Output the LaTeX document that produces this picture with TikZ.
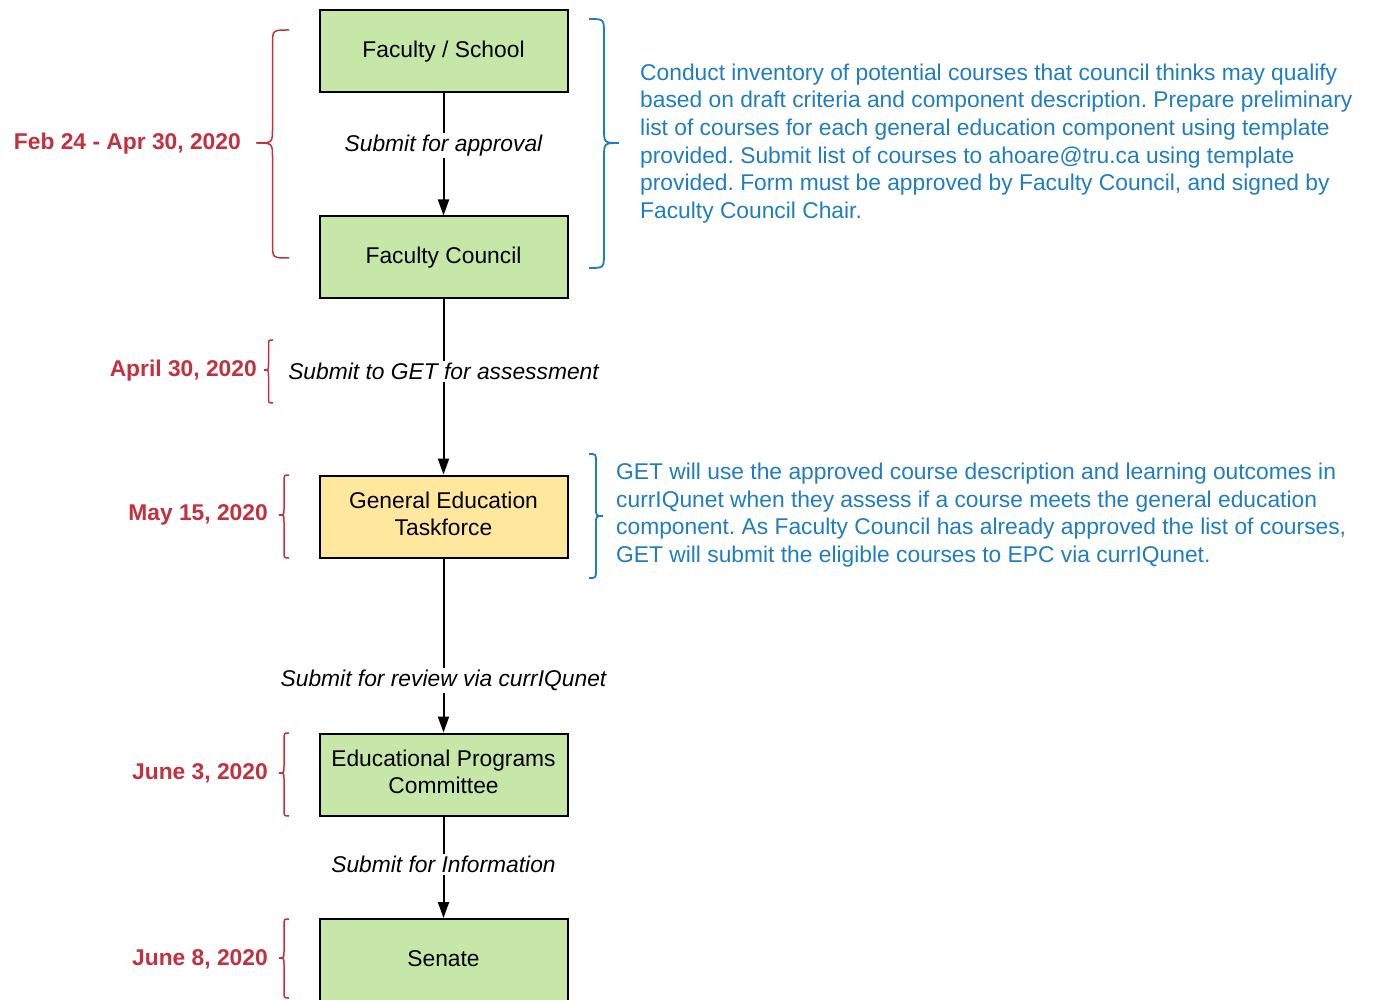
\documentclass[tikz,border=0pt]{standalone}
\usepackage{fontspec}
\setmainfont{Liberation Sans}
\usetikzlibrary{arrows.meta}
\definecolor{boxgreen}{HTML}{C6E7A8}
\definecolor{boxyellow}{HTML}{FFE89E}
\definecolor{noteblue}{HTML}{1F7EC1}
\definecolor{datered}{HTML}{C3313E}
\frenchspacing
% left-pointing brace: x0 (ends), amplitude, top, bottom, tip y, radius, style
\newcommand\BraceToLeft[7]{%
  \draw[#7] (#1,#3) .. controls ({#1-#2/2},#3) .. ({#1-#2/2},{#3+#6})
    -- ({#1-#2/2},{#5-#6}) .. controls ({#1-#2/2},#5) .. ({#1-#2},#5)
    .. controls ({#1-#2/2},#5) .. ({#1-#2/2},{#5+#6})
    -- ({#1-#2/2},{#4-#6}) .. controls ({#1-#2/2},#4) .. (#1,#4);}
\newcommand\BraceToRight[7]{%
  \draw[#7] (#1,#3) .. controls ({#1+#2/2},#3) .. ({#1+#2/2},{#3+#6})
    -- ({#1+#2/2},{#5-#6}) .. controls ({#1+#2/2},#5) .. ({#1+#2},#5)
    .. controls ({#1+#2/2},#5) .. ({#1+#2/2},{#5+#6})
    -- ({#1+#2/2},{#4-#6}) .. controls ({#1+#2/2},#4) .. (#1,#4);}
\begin{document}
\begin{tikzpicture}[x=1pt,y=-1pt,
  stepbox/.style={draw=black, line width=2pt, minimum width=248pt, minimum height=82pt,
    align=center, inner sep=0pt, font=\fontsize{22.8}{27}\selectfont},
  twoline/.style={text depth=5pt},
  arr/.style={line width=2pt, -{Triangle[length=16pt,width=11pt]}},
  lbl/.style={fill=white, inner sep=2pt, font=\fontsize{22.8}{27}\selectfont\itshape},
  datelbl/.style={anchor=east, inner sep=0pt, text=datered, font=\fontsize{22.8}{27}\selectfont\bfseries},
  notelbl/.style={anchor=west, inner sep=0pt, align=left, text=noteblue, font=\fontsize{22.8}{27.6}\selectfont},
  redbrace/.style={draw=datered, line width=1.5pt},
  bluebrace/.style={draw=noteblue, line width=1.8pt}]
\clip (0,0) rectangle (1373,1000);
\fill[white] (0,0) rectangle (1373,1000);

\node[stepbox, fill=boxgreen] (fs) at (443.5,51.5) {Faculty / School};
\node[stepbox, fill=boxgreen] (fc) at (443.5,257.5) {Faculty Council};
\node[stepbox, twoline, fill=boxyellow] (get) at (443.5,516.5) {General Education\\Taskforce};
\node[stepbox, twoline, fill=boxgreen] (epc) at (443.5,774.5) {Educational Programs\\Committee};
\node[stepbox, fill=boxgreen, minimum height=88pt, text depth=8pt] (sen) at (443.5,963) {Senate};

\draw[arr] (fs) -- node[lbl, pos=0.425] (l1) {Submit for approval} (fc);
\draw[arr] (fc) -- node[lbl, pos=0.41] (l2) {Submit to GET for assessment} (get);
\draw[arr] (get) -- node[lbl, pos=0.70] (l3) {Submit for review via currIQunet} (epc);
\draw[arr] (epc) -- node[lbl, pos=0.47] (l4) {Submit for Information} (sen);

% dates
\node[datelbl] (d1) at (241,144) {Feb 24 - Apr 30, 2020};
\node[datelbl] (d2) at (257,371) {April 30, 2020};
\node[datelbl] (d3) at (268,515) {May 15, 2020};
\node[datelbl] (d4) at (268,773) {June 3, 2020};
\node[datelbl] (d5) at (268,959) {June 8, 2020};

\BraceToLeft{289}{33}{30}{258}{143}{15}{redbrace}
\BraceToLeft{273}{9}{340}{403}{370}{6}{redbrace}
\BraceToLeft{289}{10}{475}{558}{515}{7}{redbrace}
\BraceToLeft{289}{10}{733}{816}{773}{7}{redbrace}
\BraceToLeft{289}{10}{919}{998}{958}{7}{redbrace}

% notes
\BraceToRight{589}{30}{19}{268}{143}{15}{bluebrace}
\BraceToRight{589}{14}{454}{578}{516}{8}{bluebrace}

\node[notelbl] (n1) at (640,143.5) {Conduct inventory of potential courses that council thinks may qualify\\
based on draft criteria and component description. Prepare preliminary\\
list of courses for each general education component using template\\
provided. Submit list of courses to ahoare@tru.ca using template\\
provided. Form must be approved by Faculty Council, and signed by\\
Faculty Council Chair.};
\node[notelbl] (n2) at (616,515) {GET will use the approved course description and learning outcomes in\\
currIQunet when they assess if a course meets the general education\\
component. As Faculty Council has already approved the list of courses,\\
GET will submit the eligible courses to EPC via currIQunet.};
\end{tikzpicture}
\end{document}
